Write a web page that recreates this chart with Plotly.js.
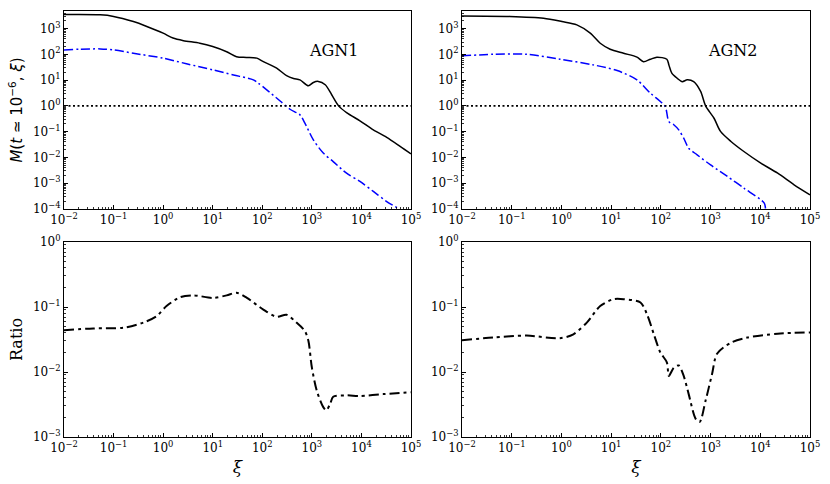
<!DOCTYPE html>
<html>
<head>
<meta charset="utf-8">
<script src="https://cdn.plot.ly/plotly-3.0.1.min.js"></script>
<style>html,body{margin:0;padding:0;background:#fff;}#chart{width:830px;height:484px;}</style>
</head>
<body>
<div id="chart"></div>
<script>
// ---- AGN1, top panel ----
var agn1SolidXi = [0.01,0.0537,0.1,0.251,0.468,1,1.58,2.57,5.5,10,19.1,30.2,47.9,77.6,105,195,309,427,575,851,1072,1349,1862,2512,3467,5012,9333,17378,32359,60256,100000];
var agn1SolidM  = [3467,3388,2951,1862,1202,661,427,339,269,200,126,81,76,71,52,29,14.8,11.5,10.2,6.0,8.1,8.9,6.6,2.7,1.0,0.55,0.263,0.117,0.060,0.027,0.0138];
var agn1DashXi = [0.01,0.0209,0.0537,0.1,0.251,1,2.95,10,26.3,66.1,83.2,123,229,363,575,724,1072,1698,2692,5012,9333,17378,32359,60256,100000];
var agn1DashM  = [148,158,162,148,110,71,43,25,15.8,10.2,7.6,4.2,1.55,0.74,0.447,0.214,0.0479,0.0148,0.0069,0.00245,0.00117,0.00048,0.000195,0.0000933,0.00004];
// ---- AGN2, top panel ----
var agn2SolidXi = [0.01,0.0912,0.437,1.02,2.04,3.8,6.03,9.55,17.8,33.1,44.7,61.7,83.2,132,145,166,214,269,339,457,631,794,1175,1585,2570,4677,10233,22387,47863,100000];
var agn2SolidM  = [3090,2951,2512,1862,1380,661,269,158,110,77.6,51.3,64.6,77.6,64.6,38.9,18.6,11.7,8.7,10.2,8.7,3.63,1.0,0.331,0.102,0.0417,0.0170,0.00603,0.00245,0.00087,0.000355];
var agn2DashXi = [0.01,0.0427,0.2,0.933,4.37,13.2,33.1,61.7,97.7,123,145,182,229,288,363,537,1000,2188,4677,12023,12882,16000];
var agn2DashM  = [87,100,100,64.6,38.9,23.4,10.2,3.09,1.48,0.933,0.245,0.186,0.117,0.0562,0.0229,0.0126,0.00513,0.00182,0.000646,0.00017,0.0001,0.00005];
// ---- reference level ----
var refXi = [0.01,100000];
var refM  = [1,1];
// ---- Ratio, bottom panels ----
var ratio1Xi = [0.01,0.0389,0.158,0.398,0.741,1.17,2.19,4.07,10.2,19.1,30.2,49,105,195,309,490,724,851,1000,1259,1698,1950,2344,2692,5012,9333,27542,100000];
var ratio1   = [0.044,0.0468,0.0479,0.0575,0.0724,0.1035,0.141,0.151,0.138,0.151,0.166,0.138,0.0912,0.0708,0.0759,0.0575,0.0427,0.0302,0.01175,0.00513,0.00288,0.00257,0.00324,0.00417,0.00437,0.00427,0.00457,0.0049];
var ratio2Xi = [0.01,0.0427,0.2,0.933,1.74,3.24,6.03,11.2,17.8,38.9,52.5,72.4,97.7,132,145,182,229,288,363,501,603,794,1072,1349,2570,5495,22387,100000];
var ratio2   = [0.0309,0.0339,0.0363,0.0331,0.038,0.0575,0.1035,0.132,0.132,0.1175,0.0776,0.038,0.02,0.0141,0.0087,0.0117,0.0126,0.0087,0.00457,0.0019,0.0017,0.00363,0.00933,0.0191,0.0282,0.0339,0.0389,0.0407];
var panelLabels = ['AGN1','AGN2'];
// ---- tick labels ----
var xTickVals = [0.01,0.1,1,10,100,1000,10000,100000];
var xTickText = ['10<sup>−2</sup>','10<sup>−1</sup>','10<sup>0</sup>','10<sup>1</sup>','10<sup>2</sup>','10<sup>3</sup>','10<sup>4</sup>','10<sup>5</sup>'];
var yTopTickVals = [0.0001,0.001,0.01,0.1,1,10,100,1000];
var yTopTickText = ['10<sup>−4</sup>','10<sup>−3</sup>','10<sup>−2</sup>','10<sup>−1</sup>','10<sup>0</sup>','10<sup>1</sup>','10<sup>2</sup>','10<sup>3</sup>'];
var yBotTickVals = [0.001,0.01,0.1,1];
var yBotTickText = ['10<sup>−3</sup>','10<sup>−2</sup>','10<sup>−1</sup>','10<sup>0</sup>'];

function minorVals(lo, hi){
  var v = [];
  for(var e=lo; e<hi; e++){ for(var k=2;k<10;k++){ v.push(k*Math.pow(10,e)); } }
  return v;
}

var solid = {color:'#000000', width:1.5, shape:'spline', smoothing:0.8};
var blueDash = {color:'#0000ff', width:1.5, dash:'9px,3px,2px,3px', shape:'spline', smoothing:0.8};
var dotted = {color:'#000000', width:1.8, dash:'2px,2.5px'};
var ratioLine = {color:'#000000', width:2, dash:'10px,4px,3px,4px', shape:'spline', smoothing:0.8};

function tr(x,y,line,xa,ya){return {x:x,y:y,type:'scatter',mode:'lines',line:line,xaxis:xa,yaxis:ya,showlegend:false,hoverinfo:'skip'};}

var data = [
  tr(agn1SolidXi,agn1SolidM,solid,'x','y'),
  tr(agn1DashXi,agn1DashM,blueDash,'x','y'),
  tr(refXi,refM,dotted,'x','y'),
  tr(agn2SolidXi,agn2SolidM,solid,'x2','y2'),
  tr(agn2DashXi,agn2DashM,blueDash,'x2','y2'),
  tr(refXi,refM,dotted,'x2','y2'),
  tr(ratio1Xi,ratio1,ratioLine,'x3','y3'),
  tr(ratio2Xi,ratio2,ratioLine,'x4','y4')
];

var tickFont = {family:'DejaVu Serif', size:12, color:'#000'};
function baseAxis(dom, anchor, range, tv, tt, mlo, mhi){
  return {type:'log', range:range, domain:dom, anchor:anchor,
    tickmode:'array', tickvals:tv, ticktext:tt,
    showline:true, mirror:true, linecolor:'#000', linewidth:1,
    ticks:'inside', ticklen:4, tickwidth:1, tickcolor:'#000',
    showgrid:false, zeroline:false, tickfont:tickFont,
    minor:{tickmode:'array', tickvals:minorVals(mlo,mhi), ticks:'inside', ticklen:2, tickwidth:0.8, tickcolor:'#000', showgrid:false}};
}
function xax(dom, anchor, title){
  var a = baseAxis(dom, anchor, [-2,5], xTickVals, xTickText, -2, 5);
  if(title){a.title={text:title, font:{family:'DejaVu Serif', size:17, color:'#000'}, standoff:6};}
  return a;
}
function yax(dom, anchor, range, tv, tt, title, tfont){
  var a = baseAxis(dom, anchor, range, tv, tt, Math.floor(range[0]), Math.ceil(range[1]));
  if(title){a.title={text:title, font:tfont, standoff:6};}
  return a;
}
var leftDom = [64/830, 411/830], rightDom = [462/830, 810/830];
var topDom = [275/484, 473/484], botDom = [47/484, 242/484];

var layout = {
  width:830, height:484, margin:{l:0,r:0,t:0,b:0},
  paper_bgcolor:'#fff', plot_bgcolor:'#fff',
  xaxis: xax(leftDom,'y'),
  yaxis: yax(topDom,'x',[-4,3.68],yTopTickVals,yTopTickText,'<i>M</i>(<i>t</i> ≃ 10<sup>−6</sup>, <i>ξ</i>)',{family:'DejaVu Sans', size:15, color:'#000'}),
  xaxis2: xax(rightDom,'y2'),
  yaxis2: yax(topDom,'x2',[-4,3.68],yTopTickVals,yTopTickText),
  xaxis3: xax(leftDom,'y3','<i>ξ</i>'),
  yaxis3: yax(botDom,'x3',[-3,0],yBotTickVals,yBotTickText,'Ratio',{family:'DejaVu Serif', size:16, color:'#000'}),
  xaxis4: xax(rightDom,'y4','<i>ξ</i>'),
  yaxis4: yax(botDom,'x4',[-3,0],yBotTickVals,yBotTickText),
  annotations:[
    {text:panelLabels[0], xref:'x', yref:'y', x:3.44, y:2.16, showarrow:false, font:{family:'DejaVu Serif', size:16, color:'#000'}},
    {text:panelLabels[1], xref:'x2', yref:'y2', x:3.45, y:2.16, showarrow:false, font:{family:'DejaVu Serif', size:16, color:'#000'}}
  ]
};
Plotly.newPlot('chart', data, layout, {staticPlot:true, displayModeBar:false});
</script>
</body>
</html>
